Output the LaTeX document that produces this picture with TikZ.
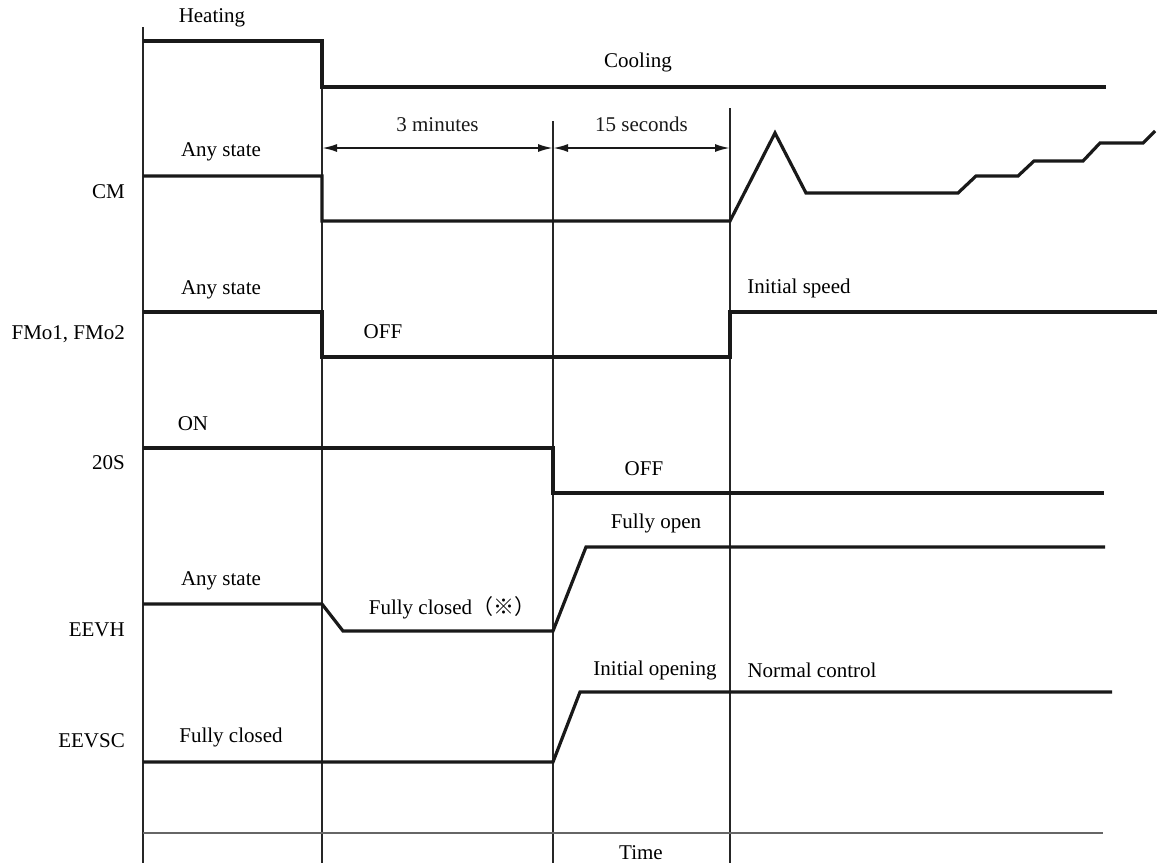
\documentclass[tikz,border=0pt]{standalone}
\usepackage{fontspec}
\setmainfont{Liberation Serif}
\newfontfamily\jpfont{Noto Sans CJK JP}
\usetikzlibrary{arrows.meta}

\begin{document}
\begin{tikzpicture}[
  x=1pt,y=-1pt,
  every node/.style={font=\fontsize{21}{25}\selectfont,inner sep=0pt},
  sig/.style={line width=3.2pt,line join=miter,color=black!90},
  gridline/.style={line width=1.2pt,color=black!85},
  timeaxis/.style={line width=2.2pt,color=black!60},
  dimarrow/.style={{Latex[length=15pt,width=8pt]}-{Latex[length=15pt,width=8pt]},line width=2pt,color=black!90},
  signame/.style={anchor=east}
]
\useasboundingbox (0,0) rectangle (1157,863);

% time marks
\coordinate (t0) at (143,27);
\coordinate (t1) at (322,87);
\coordinate (t2) at (553,121);
\coordinate (t3) at (730,108);
\foreach \t in {t0,t1,t2,t3}
  \draw[gridline] (\t) -- (\t |- 0,863);
\draw[timeaxis] (143,833) -- (1103,833);
\node (time) at (641,853) {Time};

% durations
\coordinate (d1) at (322,148);
\coordinate (d2) at (553,148);
\coordinate (d3) at (730,148);
\draw[dimarrow] (d1) -- node[midway,above=15pt] (dmin) {3 minutes} (d2);
\draw[dimarrow] (d2) -- node[midway,above=15pt] (dsec) {15 seconds} (d3);

% operation mode
\draw[sig] (143,41) -- (322,41) -- (322,87) -- (1106,87);
\node (heat) at (212,18) {Heating};
\node (cool) at (638,62) {Cooling};

% CM
\draw[sig] (143,176) -- (322,176) -- (322,221) -- (730,221) -- (775,133) -- (806,193)
  -- (958,193) -- (976,176) -- (1018,176) -- (1034,161) -- (1083,161) -- (1100,143)
  -- (1143,143) -- (1155,131);
\node[signame] (cm) at (125,192) {CM};
\node (cmany) at (221,152) {Any state};

% FMo1, FMo2
\draw[sig] (143,312) -- (322,312) -- (322,357) -- (730,357) -- (730,312) -- (1157,312);
\node[signame] (fmo) at (125,334) {FMo1, FMo2};
\node (fmoany) at (221,290) {Any state};
\node (fmooff) at (383,332) {OFF};
\node (fmoinit) at (799,288) {Initial speed};

% 20S
\draw[sig] (143,448) -- (553,448) -- (553,493) -- (1104,493);
\node[signame] (ss) at (125,463) {20S};
\node (sson) at (193,424) {ON};
\node (ssoff) at (644,469) {OFF};

% EEVH
\draw[sig] (143,604) -- (322,604) -- (343,631) -- (553,631) -- (586,547) -- (1105,547);
\node[signame] (eevh) at (125,630) {EEVH};
\node (hany) at (221,581) {Any state};
\node (hclosed) at (452,608) {Fully closed{\jpfont （※）}};
\node (hopen) at (656,523) {Fully open};

% EEVSC
\draw[sig] (143,762) -- (553,762) -- (580,692) -- (1112,692);
\node[signame] (eevsc) at (125,741) {EEVSC};
\node (scclosed) at (231,737) {Fully closed};
\node (scinit) at (655,670) {Initial opening};
\node (scnorm) at (812,670) {Normal control};
\end{tikzpicture}
\end{document}
